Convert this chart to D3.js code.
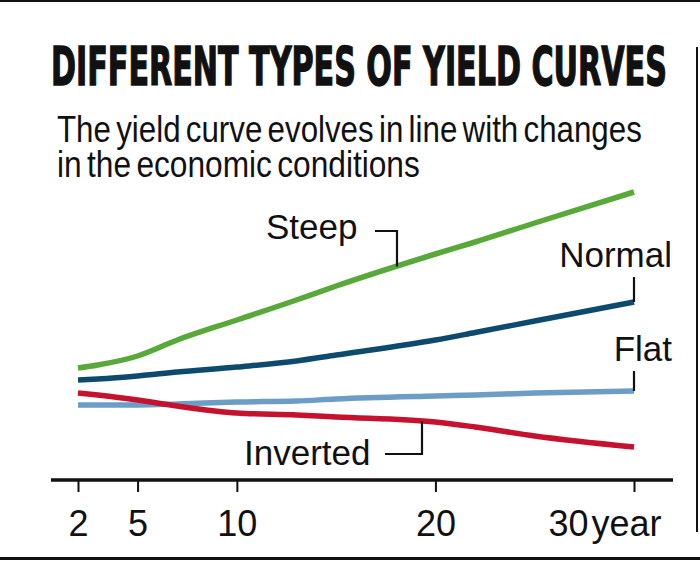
<!DOCTYPE html>
<meta charset="utf-8">
<title>Different types of yield curves</title>
<style>
body { margin: 0; background: #fff; }
svg { display: block; }
.lbl { font-family: 'Liberation Sans', Arial, sans-serif; font-size: 35px; fill: #111; }
.axis text { font-family: 'Liberation Sans', Arial, sans-serif; font-size: 36px; fill: #111; }
.leader { stroke: #111; stroke-width: 2.2; fill: none; }
</style>
<svg id="chart" width="700" height="561"></svg>
<script src="https://d3js.org/d3.v7.min.js"></script>
<script>
// maturity (years) and yields
var years = [2, 3, 5, 7, 10, 13, 15, 20, 22, 25, 30];
var steep    = [2.24, 2.30, 2.48, 2.80, 3.20, 3.60, 3.88, 4.52, 4.76, 5.14, 5.76];
var normal   = [2.00, 2.02, 2.08, 2.16, 2.26, 2.38, 2.50, 2.80, 2.95, 3.18, 3.56];
var flat     = [1.50, 1.50, 1.50, 1.52, 1.56, 1.58, 1.62, 1.68, 1.70, 1.74, 1.78];
var inverted = [1.74, 1.70, 1.60, 1.48, 1.34, 1.30, 1.26, 1.16, 1.06, 0.88, 0.66];
var tickYears = [2, 5, 10, 20, 30];

var svg = d3.select("#chart");

// frame
svg.append("rect").attr("x", 0).attr("y", 0).attr("width", 700).attr("height", 2).attr("fill", "#111");
svg.append("rect").attr("x", 0).attr("y", 557).attr("width", 700).attr("height", 3).attr("fill", "#111");
svg.append("rect").attr("x", 696).attr("y", 47).attr("width", 2).attr("height", 485).attr("fill", "#111");

// squeeze a text horizontally so it spans the given width
function fitText(sel, left, base, width) {
  var w = sel.node().getComputedTextLength();
  sel.attr("transform", "translate(" + left + "," + base + ") scale(" + (width / w) + ",1)");
}

var title = svg.append("text")
  .style("font-family", "'Liberation Sans Narrow', 'DejaVu Sans Condensed', sans-serif")
  .style("font-weight", "bold").style("font-size", "53px")
  .style("stroke", "#111").style("stroke-width", 1.4)
  .attr("fill", "#111")
  .text("DIFFERENT  TYPES OF YIELD CURVES");
fitText(title, 51, 85, 616);

var sub = ["The yield curve evolves in line with changes", "in the economic conditions"];
var subW = [585, 363];
sub.forEach(function(s, i) {
  var t = svg.append("text")
    .style("font-family", "'Liberation Sans Narrow', 'Liberation Sans', sans-serif")
    .style("font-size", "37px")
    .style("word-spacing", "-4px")
    .attr("fill", "#111")
    .text(s);
  fitText(t, 57, 142 + i * 35, subW[i]);
});

var x = d3.scaleLinear().domain([2, 30]).range([78, 634]);
var y = d3.scaleLinear().domain([0, 6]).range([480, 180]);

// axis
var axis = svg.append("g").attr("class", "axis").attr("transform", "translate(0,480)");
axis.append("line").attr("x1", 51).attr("x2", 673).attr("stroke", "#111").attr("stroke-width", 3.5);
axis.call(d3.axisBottom(x).tickValues(tickYears).tickSize(12).tickPadding(10).tickFormat(d3.format("d")));
axis.select(".domain").remove();
axis.selectAll(".tick line").attr("stroke", "#111").attr("stroke-width", 2);
axis.selectAll(".tick text").attr("fill", "#111").attr("font-size", null).attr("font-family", null)
  .attr("dy", "0.94em");
axis.selectAll(".tick").filter(function(d) { return d === 30; }).select("text")
  .attr("text-anchor", "end").attr("x", 27)
  .append("tspan").attr("dx", 3).text("year");

var series = [
  { name: "Flat", values: flat, color: "#6b9dc7" },
  { name: "Inverted", values: inverted, color: "#c4122f" },
  { name: "Normal", values: normal, color: "#0e4a6e" },
  { name: "Steep", values: steep, color: "#58a93a" }
];

var line = d3.line()
  .x(function(d, i) { return x(years[i]); })
  .y(function(d) { return y(d); })
  .curve(d3.curveMonotoneX);

svg.selectAll(".curve").data(series).enter().append("path")
  .attr("class", "curve")
  .attr("d", function(d) { return line(d.values); })
  .attr("fill", "none")
  .attr("stroke", function(d) { return d.color; })
  .attr("stroke-width", 5.5);

function valueAt(vals, yr) {
  return d3.scaleLinear().domain(years).range(vals)(yr);
}

// labels + leaders
svg.append("text").attr("class", "lbl").attr("x", 266).attr("y", 239).text("Steep");
var sx = 397, syr = x.invert(sx);
svg.append("path").attr("class", "leader")
  .attr("d", "M375,231H" + sx + "V" + y(valueAt(steep, syr)));

svg.append("text").attr("class", "lbl").attr("x", 672).attr("y", 267).attr("text-anchor", "end").text("Normal");
svg.append("path").attr("class", "leader")
  .attr("d", "M" + x(30) + ",277V" + y(normal[normal.length - 1]));

svg.append("text").attr("class", "lbl").attr("x", 672).attr("y", 361).attr("text-anchor", "end").text("Flat");
svg.append("path").attr("class", "leader")
  .attr("d", "M" + x(30) + ",371V" + y(flat[flat.length - 1]));

svg.append("text").attr("class", "lbl").attr("x", 244).attr("y", 465).text("Inverted");
var ix = 422, iyr = x.invert(ix);
svg.append("path").attr("class", "leader")
  .attr("d", "M385,454H" + ix + "V" + y(valueAt(inverted, iyr)));
</script>
